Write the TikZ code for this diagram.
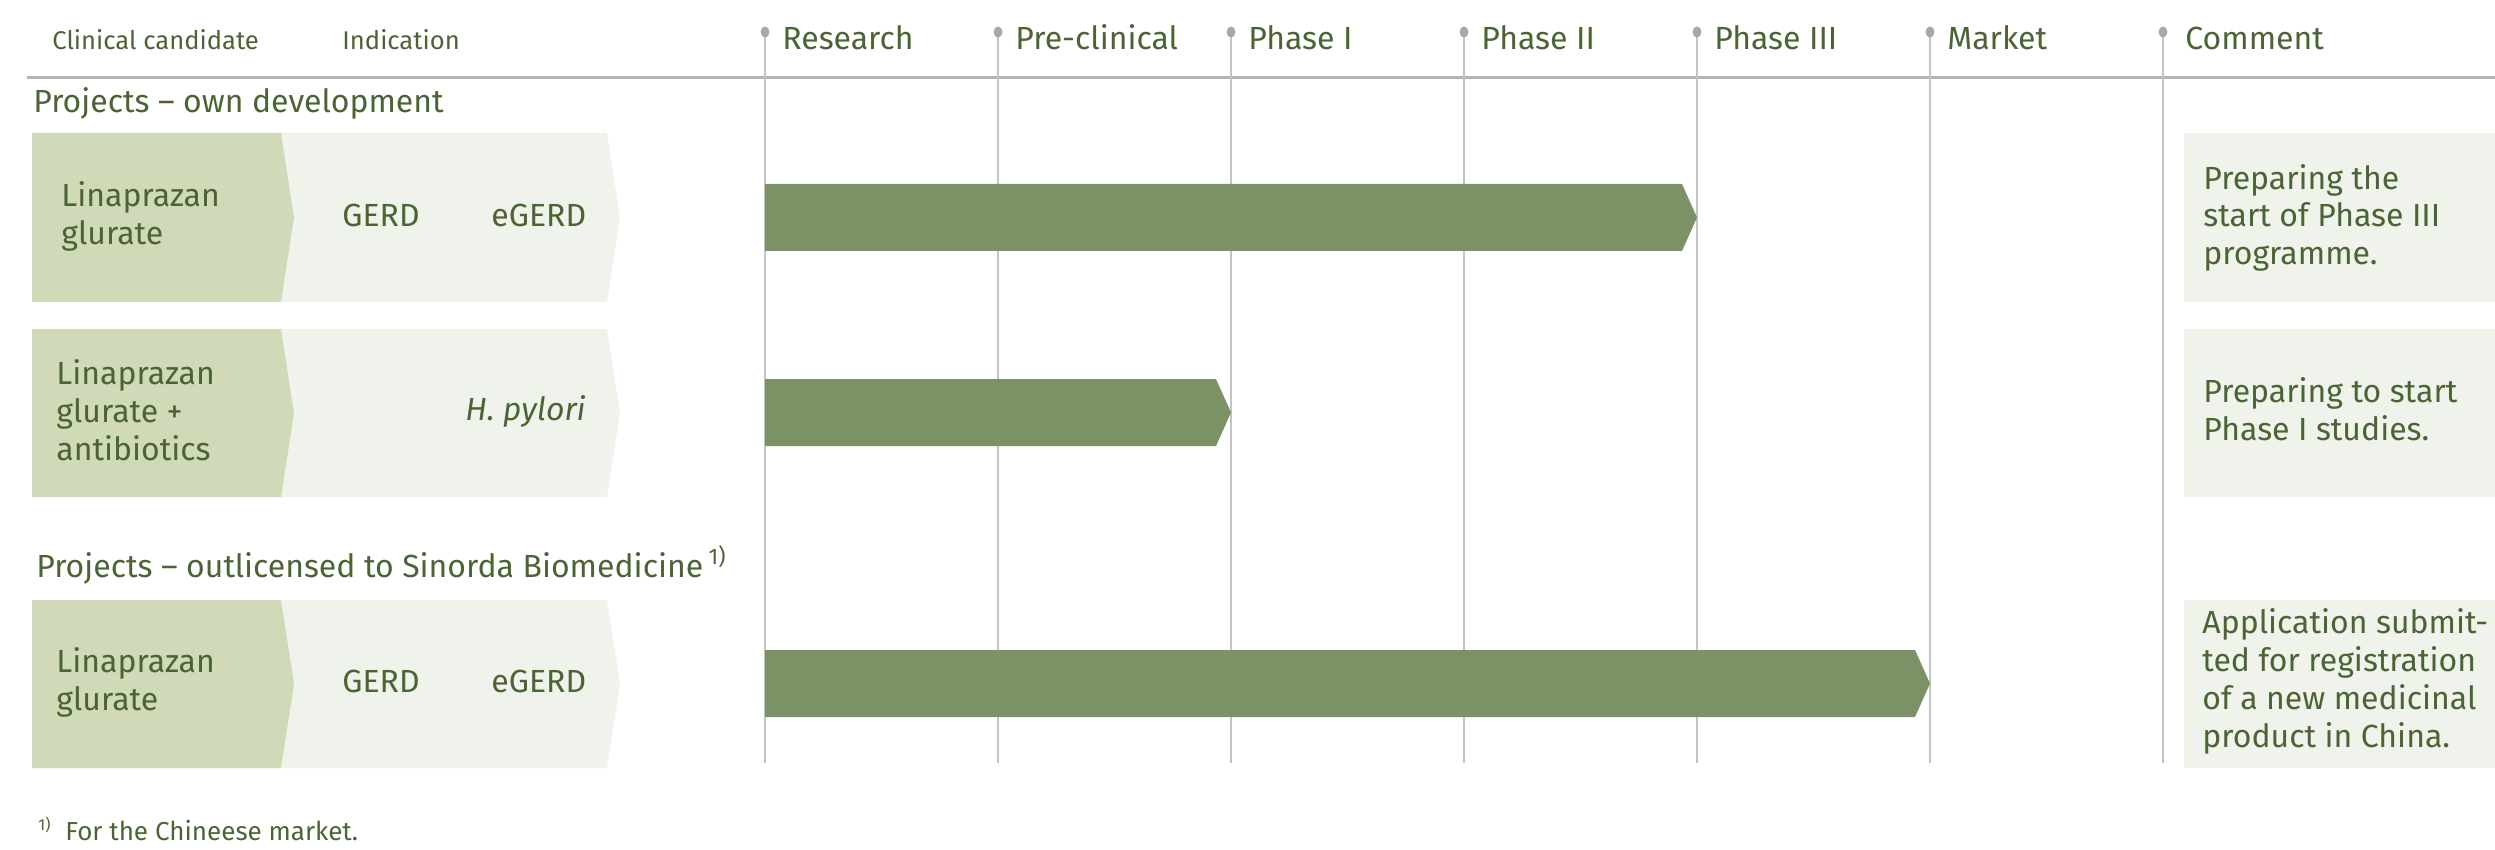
\documentclass[tikz,border=0pt]{standalone}
\usepackage{fontspec}
\setmainfont{Fira Sans}
\definecolor{txt}{HTML}{4B6434}
\definecolor{cand}{HTML}{D0DAB8}
\definecolor{ind}{HTML}{F0F3EC}
\definecolor{barc}{HTML}{7A9265}
\definecolor{gridc}{HTML}{C4C4C4}
\definecolor{rulec}{HTML}{B4B4B4}
\definecolor{dotc}{HTML}{A8A8A8}
\begin{document}
\begin{tikzpicture}[x=0.5pt,y=-0.5pt,
  lbl/.style={anchor=base west, inner sep=0pt, text=txt, align=left, font=\fontsize{16pt}{19pt}\selectfont},
  hdr/.style={lbl, font=\fontsize{12.8pt}{15pt}\selectfont},
  foot/.style={lbl, font=\fontsize{13pt}{15pt}\selectfont},
  gridline/.style={draw=gridc, line width=0.75pt},
  candbox/.style={fill=cand},
  indbox/.style={fill=ind},
  barbox/.style={fill=barc},
  combox/.style={fill=ind}]
\useasboundingbox (0,0) rectangle (2495,850);

% header
\node[hdr] (hcand) at (52,50) {Clinical candidate};
\node[hdr] (hind) at (342,50) {Indication};
\draw[draw=rulec, line width=1.5pt] (27,78) -- (2495,78);

\foreach \x/\t/\n/\o in {765/Research/pres/17, 998/Pre-clinical/ppre/17, 1231/Phase I/pone/17, 1464/Phase II/ptwo/17, 1697/Phase III/pthree/17, 1930/Market/pmark/17, 2163/Comment/pcom/22}{
  \draw[gridline] (\x,32) -- (\x,763);
  \fill[dotc] (\x,32) ellipse (2.2pt and 2.8pt);
  \node[lbl] (\n) at (\x+\o,50) {\t};
}

% section 1
\node[lbl] (sec1) at (33,113) {Projects -- own development};

% row 1
\fill[indbox] (32,133) -- (607,133) -- (620,217.5) -- (607,302) -- (32,302) -- cycle;
\fill[candbox] (32,133) -- (281,133) -- (294,217.5) -- (281,302) -- (32,302) -- cycle;
\node[lbl] (c1) at (61,245) {Linaprazan\\glurate};
\node[lbl] (i1a) at (342,227) {GERD};
\node[lbl] (i1b) at (491,227) {eGERD};
\fill[barbox] (765,184) -- (1682,184) -- (1697,217.5) -- (1682,251) -- (765,251) -- cycle;
\fill[combox] (2184,133) rectangle (2495,302);
\node[lbl] (m1) at (2203,265) {Preparing the\\start of Phase III\\programme.};

% row 2
\fill[indbox] (32,329) -- (607,329) -- (620,413) -- (607,497) -- (32,497) -- cycle;
\fill[candbox] (32,329) -- (281,329) -- (294,413) -- (281,497) -- (32,497) -- cycle;
\node[lbl] (c2) at (56,460) {Linaprazan\\glurate +\\antibiotics};
\node[lbl, anchor=base east] (i2) at (586,420) {\itshape H. pylori};
\fill[barbox] (765,379) -- (1216,379) -- (1231,412.5) -- (1216,446) -- (765,446) -- cycle;
\fill[combox] (2184,329) rectangle (2495,497);
\node[lbl] (m2) at (2203,440) {Preparing to start\\Phase I studies.};

% section 2
\node[lbl] (sec2) at (36,577) {Projects -- outlicensed to Sinorda Biomedicine\,\textsuperscript{1)}};

% row 3
\fill[indbox] (32,600) -- (607,600) -- (620,684) -- (607,768) -- (32,768) -- cycle;
\fill[candbox] (32,600) -- (281,600) -- (294,684) -- (281,768) -- (32,768) -- cycle;
\node[lbl] (c3) at (56,710) {Linaprazan\\glurate};
\node[lbl] (i3a) at (342,692) {GERD};
\node[lbl] (i3b) at (491,692) {eGERD};
\fill[barbox] (765,650) -- (1915,650) -- (1930,683.5) -- (1915,717) -- (765,717) -- cycle;
\fill[combox] (2184,600) rectangle (2495,768);
\node[lbl] (m3) at (2202,747) {Application submit-\\ted for registration\\of a new medicinal\\product in China.};

% footnote
\node[lbl, font=\fontsize{8pt}{9pt}\selectfont] (fn1) at (38,830) {1)};
\node[foot] (fn) at (65,840) {For the Chineese market.};
\end{tikzpicture}
\end{document}
